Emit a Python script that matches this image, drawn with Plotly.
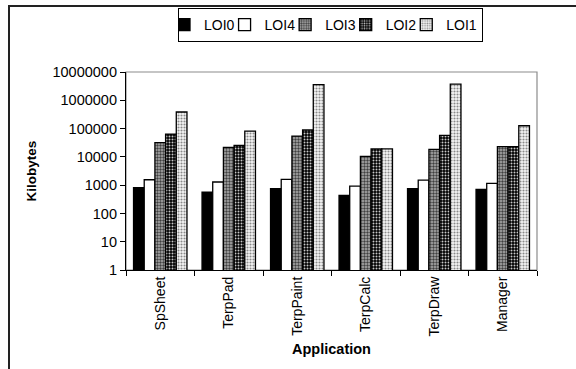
import plotly.graph_objects as go

apps = ["SpSheet", "TerpPad", "TerpPaint", "TerpCalc", "TerpDraw", "Manager"]
series_names = ["LOI0", "LOI4", "LOI3", "LOI2", "LOI1"]
loi0 = [820, 570, 745, 435, 745, 705]
loi4 = [1550, 1290, 1590, 930, 1510, 1150]
loi3 = [32000, 21500, 54500, 10400, 18300, 23000]
loi2 = [64000, 25300, 89000, 19000, 57500, 23000]
loi1 = [385000, 81800, 3600000, 19000, 3700000, 126000]
tick_vals = [1, 10, 100, 1000, 10000, 100000, 1000000, 10000000]
tick_text = ["1", "10", "100", "1000", "10000", "100000", "1000000", "10000000"]

values = [loi0, loi4, loi3, loi2, loi1]
styles = [
    dict(color="black", pattern=None),
    dict(color="white", pattern=None),
    dict(color="#b0b0b0", pattern=dict(shape=".", bgcolor="#b0b0b0", fgcolor="#404040", size=3, solidity=0.5, fillmode="replace")),
    dict(color="black", pattern=dict(shape=".", bgcolor="#000000", fgcolor="#c8c8c8", size=3, solidity=0.35, fillmode="replace")),
    dict(color="white", pattern=dict(shape=".", bgcolor="#f6f6f6", fgcolor="#8a8a8a", size=3, solidity=0.4, fillmode="replace")),
]

FONT = "Arial, Liberation Sans, sans-serif"
fig = go.Figure()
for name, vals, st in zip(series_names, values, styles):
    marker = dict(color=st["color"], line=dict(color="black", width=1.3))
    if st["pattern"]:
        marker["pattern"] = st["pattern"]
    fig.add_trace(go.Bar(name=name, x=apps, y=vals, marker=marker))

W, H = 576, 369
L, R, T, B = 126, 39, 72, 99
pw, ph = W - L - R, H - T - B

def px_x(p):
    return (p - L) / pw

def px_y(p):
    return (H - B - p) / ph

shapes = [
    dict(type="rect", xref="paper", yref="paper", x0=px_x(9), x1=px_x(600), y0=px_y(400), y1=px_y(6),
         line=dict(color="#222222", width=2), fillcolor="rgba(0,0,0,0)", layer="below"),
    dict(type="rect", xref="paper", yref="paper", x0=0, x1=1, y0=0, y1=1,
         line=dict(color="#8c8c8c", width=1.2), fillcolor="rgba(0,0,0,0)", layer="below"),
]

fig.update_layout(
    width=W, height=H,
    margin=dict(l=L, r=R, t=T, b=B, autoexpand=False),
    paper_bgcolor="white", plot_bgcolor="white",
    barmode="group", bargap=0.22, bargroupgap=0,
    font=dict(family=FONT, size=14, color="black"),
    shapes=shapes,
    showlegend=True,
    legend=dict(orientation="h", xref="container", yref="container",
                x=330.5 / W, xanchor="center", y=1 - 8 / H, yanchor="top",
                bordercolor="black", borderwidth=1, bgcolor="white",
                font=dict(family=FONT, size=14), itemwidth=30, tracegroupgap=0,
                indentation=-15),
    xaxis=dict(title=dict(text="<b>Application</b>", font=dict(size=14.5), standoff=8),
               automargin=False,
               showline=True, linecolor="black", linewidth=1.2,
               ticks="outside", tickson="boundaries", ticklen=5, tickcolor="black",
               tickangle=-90, tickfont=dict(size=14), showgrid=False),
    yaxis=dict(type="log", range=[0, 7], automargin=False,
               title=dict(text="<b>Kilobytes</b>", font=dict(size=13.5), standoff=12),
               showline=True, linecolor="black", linewidth=1.2,
               ticks="outside", ticklen=5, tickcolor="black",
               tickvals=tick_vals, ticktext=tick_text, tickfont=dict(size=14.5),
               showgrid=False, zeroline=False),
)

fig.write_html("out.html", config={"displayModeBar": False},
               post_script="document.body.style.margin='0';")
